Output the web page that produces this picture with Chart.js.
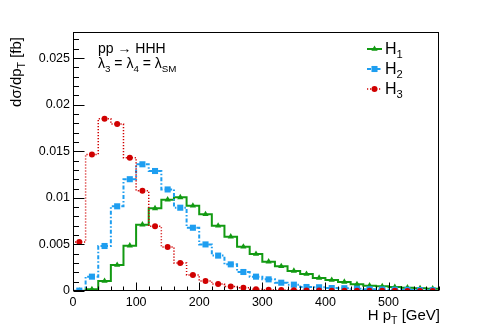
<!DOCTYPE html>
<html>
<head>
<meta charset="utf-8">
<script src="https://cdn.jsdelivr.net/npm/chart.js"></script>
<style>
    html, body { margin: 0; padding: 0; background: #fff; }
    canvas { display: block; }
</style>
</head>
<body>
<canvas id="ptChart" width="488" height="331"></canvas>
<script>
    // Bin centres of the 20 GeV pT bins
    const binCenters = [10, 30, 50, 70, 90, 110, 130, 150, 170, 190, 210, 230, 250, 270, 290,
                        310, 330, 350, 370, 390, 410, 430, 450, 470, 490, 510, 530, 550, 570];
    const binWidth = 20;

    // dsigma/dpT [fb] per bin
    const h1 = [0.00001, 0.00018, 0.00107, 0.00279, 0.00486, 0.00712, 0.00887, 0.0098, 0.01005, 0.00915,
                0.00823, 0.0070, 0.00583, 0.00475, 0.00397, 0.00315, 0.00265, 0.00215, 0.00182, 0.0014,
                0.00118, 0.00097, 0.00072, 0.00057, 0.0005, 0.00043, 0.00036, 0.00029, 0.00025];
    const h2 = [0.00004, 0.00154, 0.00483, 0.00909, 0.0120, 0.0136, 0.01288, 0.0109, 0.00894, 0.00679,
                0.0050, 0.0038, 0.00286, 0.00204, 0.00154, 0.00125, 0.00089, 0.00068, 0.00043, 0.0004,
                0.00032, 0.0003, 0.00025, 0.0002, 0.00017, 0.00014, 0.00012, 0.0001, 0.00008];
    const h3 = [0.00526, 0.01466, 0.01849, 0.01792, 0.0143, 0.01076, 0.00694, 0.00472, 0.0030, 0.00172,
                0.00107, 0.00074, 0.00048, 0.00036, 0.0002, 0.00013, 0.0001, 0.00008, 0.00006, 0.00005,
                0.00004, 0.00003, 0.00003, 0.00002, 0.00002, 0.00002, 0.00001, 0.00001, 0.00001];

    // Axis ticks
    const xTicks = [0, 100, 200, 300, 400, 500];
    const yTicks = [0, 0.005, 0.01, 0.015, 0.02, 0.025];
    const yTickLabels = ['0', '0.005', '0.01', '0.015', '0.02', '0.025'];

    const FONT = "'Liberation Sans', Arial, Helvetica, sans-serif";
    const GREEN = '#129a12';
    const BLUE = '#1e9ef0';
    const RED = '#d00000';

    // histogram outline: low edge of each bin, stepped, closed at both ends
    function outline(vals) {
        const pts = [{ x: binCenters[0] - binWidth / 2, y: 0 }];
        vals.forEach((v, i) => pts.push({ x: binCenters[i] - binWidth / 2, y: v }));
        const last = binCenters[binCenters.length - 1] + binWidth / 2;
        pts.push({ x: last, y: vals[vals.length - 1] });
        pts.push({ x: last, y: 0 });
        return pts;
    }
    function markers(vals) {
        return vals.map((v, i) => ({ x: binCenters[i], y: v }));
    }

    const series = [
        { name: 'H', sub: '1', vals: h1, color: GREEN, dash: [], width: 2, style: 'triangle', radius: 3.6 },
        { name: 'H', sub: '2', vals: h2, color: BLUE, dash: [4, 2, 1.5, 2], width: 2, style: 'rect', radius: 4.3 },
        { name: 'H', sub: '3', vals: h3, color: RED, dash: [1.2, 1.8], width: 1.5, style: 'circle', radius: 3 }
    ];

    const datasets = [];
    series.forEach((s, k) => {
        datasets.push({
            data: outline(s.vals),
            borderColor: s.color,
            borderWidth: s.width,
            borderDash: s.dash,
            stepped: 'before',
            pointRadius: 0,
            fill: false,
            order: 10 - k * 2
        });
        datasets.push({
            data: markers(s.vals),
            showLine: false,
            pointStyle: s.style,
            pointRadius: s.radius,
            pointBackgroundColor: s.color,
            pointBorderColor: s.color,
            pointBorderWidth: 0,
            order: 9 - k * 2
        });
    });

    // draw text with a subscript part
    function richText(ctx, parts, x, y, size, align) {
        const widths = parts.map(p => {
            ctx.font = (p.sub ? size * 0.7 : size) + 'px ' + FONT;
            return ctx.measureText(p.t).width;
        });
        const total = widths.reduce((a, b) => a + b, 0);
        let cx = align === 'right' ? x - total : x;
        ctx.textAlign = 'left';
        ctx.textBaseline = 'alphabetic';
        parts.forEach((p, i) => {
            ctx.font = (p.sub ? size * 0.7 : size) + 'px ' + FONT;
            ctx.fillText(p.t, cx, p.sub ? y + size * 0.28 : y);
            cx += widths[i];
        });
    }

    const rootStyle = {
        id: 'rootStyle',
        afterDatasetsDraw(chart) {
            const ctx = chart.ctx;
            const a = chart.chartArea;
            const xs = chart.scales.x, ys = chart.scales.y;
            ctx.save();
            ctx.strokeStyle = '#000';
            ctx.lineWidth = 1;
            const L = Math.round(a.left) + 0.5, R = Math.round(a.right) - 0.5;
            const T = Math.round(a.top) + 0.5, B = Math.round(a.bottom) - 0.5;
            ctx.strokeRect(L, T, R - L, B - T);

            ctx.beginPath();
            // x ticks, pointing up into the frame
            for (let v = 0; v <= xs.max + 1e-9; v += 20) {
                const px = Math.round(xs.getPixelForValue(v)) + 0.5;
                const len = (v % 100 === 0) ? 8 : 4;
                ctx.moveTo(px, B);
                ctx.lineTo(px, B - len);
            }
            // y ticks, pointing right into the frame
            for (let i = 0; i * 0.001 <= ys.max + 1e-9; i++) {
                const py = Math.round(ys.getPixelForValue(i * 0.001)) + 0.5;
                const len = (i % 5 === 0) ? 11 : 5.5;
                ctx.moveTo(L, py);
                ctx.lineTo(L + len, py);
            }
            ctx.stroke();
            ctx.restore();
        },
        afterDraw(chart) {
            const ctx = chart.ctx;
            ctx.save();
            ctx.fillStyle = '#000';

            // axis titles
            richText(ctx, [{ t: 'H p' }, { t: 'T', sub: true }, { t: ' [GeV]' }], 440, 320, 15, 'right');
            ctx.save();
            ctx.translate(21, 37);
            ctx.rotate(-Math.PI / 2);
            richText(ctx, [{ t: 'dσ/dp' }, { t: 'T', sub: true }, { t: ' [fb]' }], 0, 0, 15, 'right');
            ctx.restore();

            // process labels
            richText(ctx, [{ t: 'pp → HHH' }], 98, 53, 14, 'left');
            richText(ctx, [{ t: 'λ' }, { t: '3', sub: true }, { t: ' = λ' }, { t: '4', sub: true },
                           { t: ' = λ' }, { t: 'SM', sub: true }], 98, 68, 14, 'left');

            // legend
            series.forEach((s, k) => {
                const y = 49 + k * 20;
                ctx.strokeStyle = s.color;
                ctx.fillStyle = s.color;
                ctx.lineWidth = s.width;
                ctx.setLineDash(s.dash);
                ctx.beginPath();
                ctx.moveTo(367, y);
                ctx.lineTo(382, y);
                ctx.stroke();
                ctx.setLineDash([]);
                Chart.helpers.drawPoint(ctx, { pointStyle: s.style, radius: s.radius, rotation: 0, borderWidth: 0 }, 374.5, y);
                ctx.fillStyle = '#000';
                richText(ctx, [{ t: s.name }, { t: s.sub, sub: true }], 385, y + 5, 16, 'left');
            });
            ctx.restore();
        }
    };

    const tickFont = { family: FONT, size: 12.5 };

    new Chart(document.getElementById('ptChart').getContext('2d'), {
        type: 'line',
        data: { datasets: datasets },
        options: {
            responsive: false,
            animation: false,
            devicePixelRatio: 1,
            layout: { padding: { top: 32, right: 49, left: 0, bottom: 0 } },
            plugins: { legend: { display: false }, tooltip: { enabled: false } },
            scales: {
                x: {
                    type: 'linear',
                    min: 0,
                    max: 580,
                    afterBuildTicks: s => { s.ticks = xTicks.map(v => ({ value: v })); },
                    afterFit: s => { s.height = 40; },
                    grid: { display: false, drawTicks: false },
                    border: { display: false },
                    ticks: { font: tickFont, color: '#000', padding: 4, maxRotation: 0, autoSkip: false }
                },
                y: {
                    type: 'linear',
                    min: 0,
                    max: 0.0278,
                    afterBuildTicks: s => { s.ticks = yTicks.map(v => ({ value: v })); },
                    afterFit: s => { s.width = 73; },
                    grid: { display: false, drawTicks: false },
                    border: { display: false },
                    ticks: {
                        font: tickFont, color: '#000', padding: 3, autoSkip: false,
                        callback: (v, i) => yTickLabels[i]
                    }
                }
            }
        },
        plugins: [rootStyle]
    });
</script>
</body>
</html>
